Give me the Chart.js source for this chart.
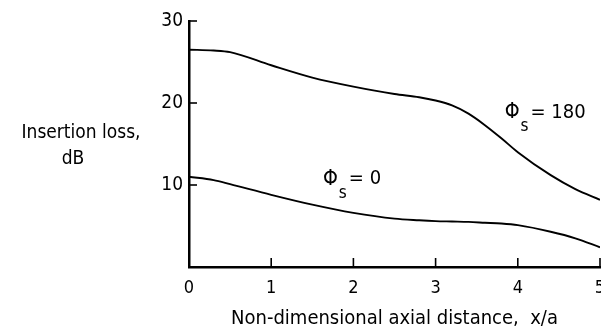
<!DOCTYPE html>
<html>
<head>
<meta charset="utf-8">
<script src="https://cdn.jsdelivr.net/npm/chart.js@4"></script>
<style>
	body { margin: 0; background: #fff; }
</style>
</head>
<body>
<canvas id="myChart" width="601" height="329"></canvas>
<script>
// x/a positions
let xs = [0, 0.3, 0.5, 1, 1.5, 2, 2.5, 2.8, 3, 3.2, 3.4, 3.6, 3.8, 4, 4.4, 4.7, 5];
let phi180 = [26.5, 26.4, 26.2, 24.6, 23.1, 22.0, 21.1, 20.7, 20.3, 19.7, 18.7, 17.3, 15.7, 14.0, 11.2, 9.5, 8.2];
let phi0 = [11.0, 10.6, 10.1, 8.8, 7.6, 6.6, 5.9, 5.7, 5.6, 5.55, 5.5, 5.4, 5.3, 5.1, 4.3, 3.5, 2.4];
let xTicks = [0, 1, 2, 3, 4, 5];
let yTicks = [10, 20, 30];
// curve labels: [x, y, value text]
let curveLabels = [
	[3.84, 18.8, "= 180"],
	[1.63, 10.7, "= 0"],
];

let font = "'Liberation Sans Narrow', 'DejaVu Sans Condensed', 'Roboto', sans-serif";
var ctx = document.getElementById("myChart");

function toPoints(ys) {
	return xs.map((x, i) => ({ x: x, y: ys[i] }));
}

// tick marks point into the plot, like the original figure
const innerTicks = {
	id: "innerTicks",
	afterDraw(chart) {
		const c = chart.ctx;
		const x = chart.scales.x;
		const y = chart.scales.y;
		c.save();
		c.strokeStyle = "#000";
		c.lineWidth = 1.6;
		for (const v of xTicks) {
			if (v == 0) continue;
			let px = x.getPixelForValue(v);
			c.beginPath();
			c.moveTo(px, y.bottom);
			c.lineTo(px, y.bottom - 9);
			c.stroke();
		}
		for (const v of yTicks) {
			let py = y.getPixelForValue(v);
			c.beginPath();
			c.moveTo(x.left, py);
			c.lineTo(x.left + 8, py);
			c.stroke();
		}
		c.restore();
	},
};

const textBits = {
	id: "textBits",
	afterDraw(chart) {
		const c = chart.ctx;
		const x = chart.scales.x;
		const y = chart.scales.y;
		c.save();
		c.fillStyle = "#000";
		c.textBaseline = "middle";
		// y title sits horizontal, left of the axis
		c.textAlign = "center";
		c.font = "19px " + font;
		c.fillText("Insertion loss,", 81, 133);
		c.fillText("dB", 73, 159);
		c.textAlign = "left";
		for (const lab of curveLabels) {
			let px = x.getPixelForValue(lab[0]);
			let py = y.getPixelForValue(lab[1]);
			c.font = "21px " + font;
			c.fillText("\u03A6", px, py);
			let w = c.measureText("\u03A6").width;
			c.font = "17px " + font;
			c.fillText("s", px + w + 1, py + 14);
			c.font = "20px " + font;
			c.fillText(lab[2], px + w + 11, py);
		}
		c.restore();
	},
};

var myChart = new Chart(ctx, {
	type: "line",
	data: {
		datasets: [
			{
				label: "phi_s = 180",
				data: toPoints(phi180),
				borderColor: "#000",
				borderWidth: 1.9,
				pointRadius: 0,
				cubicInterpolationMode: "monotone",
				fill: false,
			},
			{
				label: "phi_s = 0",
				data: toPoints(phi0),
				borderColor: "#000",
				borderWidth: 1.9,
				pointRadius: 0,
				cubicInterpolationMode: "monotone",
				fill: false,
			},
		],
	},
	options: {
		responsive: false,
		animation: false,
		layout: { padding: { top: 21, right: 1, left: 0, bottom: 0 } },
		plugins: {
			legend: { display: false },
			tooltip: { enabled: false },
		},
		scales: {
			x: {
				type: "linear",
				min: 0,
				max: 5,
				afterBuildTicks: (s) => {
					s.ticks = xTicks.map((v) => ({ value: v }));
				},
				afterFit: (s) => {
					s.paddingLeft = 0;
					s.paddingRight = 0;
					s.height = 62;
				},
				grid: { drawOnChartArea: false, drawTicks: false },
				border: { color: "#000", width: 2.5 },
				ticks: {
					color: "#000",
					padding: 11,
					maxRotation: 0,
					font: { family: font, size: 18 },
				},
				title: {
					display: true,
					text: "Non-dimensional axial distance,  x/a",
					color: "#000",
					padding: 0,
					font: { family: font, size: 20, lineHeight: 1 },
				},
			},
			y: {
				min: 0,
				max: 30,
				afterBuildTicks: (s) => {
					s.ticks = yTicks.map((v) => ({ value: v }));
				},
				afterFit: (s) => {
					s.width = 189;
					s.paddingTop = 0;
					s.paddingBottom = 0;
				},
				grid: { drawOnChartArea: false, drawTicks: false },
				border: { color: "#000", width: 2.5 },
				ticks: {
					color: "#000",
					padding: 6,
					font: { family: font, size: 19 },
				},
			},
		},
	},
	plugins: [innerTicks, textBits],
});
</script>
</body>
</html>
